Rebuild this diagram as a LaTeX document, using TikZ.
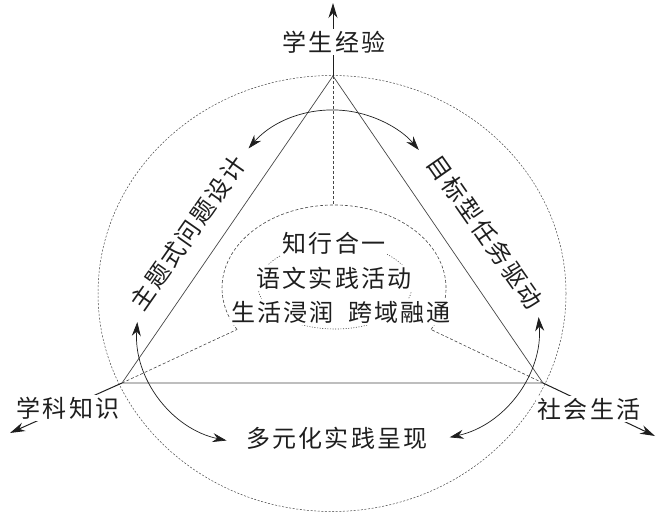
\documentclass[tikz,border=0pt]{standalone}
\usepackage{fontspec}
\usepackage{tikz}
\usetikzlibrary{arrows.meta, positioning, calc}
\newfontfamily\cjk[LetterSpace=9]{Noto Sans CJK SC}
\definecolor{ink}{RGB}{30,30,30}
\definecolor{rule}{RGB}{70,70,70}

\begin{document}
\begin{tikzpicture}[
    x=1pt, y=-1pt,
    every node/.style={font=\cjk\fontsize{24}{26}\selectfont, text=ink},
    tag/.style={fill=white, inner sep=1.5pt},
    axisarrow/.style={-{Stealth[length=15pt,width=9pt]}, line width=1pt, draw=ink},
    side/.style={line width=0.7pt, draw=rule},
    swing/.style={{Stealth[length=14pt,width=9pt]}-{Stealth[length=14pt,width=9pt]}, line width=0.7pt, draw=ink},
    guide/.style={dash pattern=on 3pt off 2pt, line width=0.6pt, draw=rule},
    ring/.style={dash pattern=on 2pt off 1.6pt, line width=0.5pt, draw=rule},
    hub/.style={dash pattern=on 1pt off 1.6pt, line width=0.6pt, draw=rule}
]
    \useasboundingbox (0,0) rectangle (660,516);

    % vertices of the triangle
    \coordinate (A) at (333,76);
    \coordinate (B) at (122,383);
    \coordinate (C) at (543,383);
    % axis ends
    \coordinate (At) at (333,3);
    \coordinate (Bt) at (10,433);
    \coordinate (Ct) at (655,436);
    % ends on the middle ellipse
    \coordinate (mt) at (333,205);
    \coordinate (ml) at (237,329.5);
    \coordinate (mr) at (431,329.5);
    % starts of the curved arrows
    \coordinate (t1) at (248.5,148.5);
    \coordinate (l1) at (137.3,322.1);
    \coordinate (r1) at (538.6,317.1);

    \draw[ring] (332,293.5) ellipse [x radius=234pt, y radius=218pt];
    \draw[side] (A) -- (B) -- (C) -- cycle;

    \draw[guide] (A) -- (mt);
    \draw[guide] (B) -- (ml);
    \draw[guide] (C) -- (mr);
    \draw[guide] (mr) arc [start angle=-30, end angle=210, x radius=112pt, y radius=83pt];
    \draw[hub] (335,286) ellipse [x radius=77pt, y radius=43pt];

    \draw[swing] (t1) arc [start angle=139, end angle=40, radius=112pt];
    \draw[swing] (l1) arc [start angle=176, end angle=258, radius=113pt];
    \draw[swing] (r1) arc [start angle=4.5, end angle=-77.5, radius=114pt];

    \draw[axisarrow] (A) -- (At);
    \draw[axisarrow] (B) -- (Bt);
    \draw[axisarrow] (C) -- (Ct);

    \node[tag] (xp) at (334,42) {学生经验};
    \node[tag] (kn) at (68,408) {学科知识};
    \node[tag] (sl) at (589,409) {社会生活};

    \node[rotate=55] (theme) at (188,233) {主题式问题设计};
    \node[rotate=-55] (goal) at (485,232) {目标型任务驱动};
    \node (show) at (337,438) {多元化实践呈现};

    \node[tag] (z1) at (334,243) {知行合一};
    \node[tag] (z2) at (334,278) {语文实践活动};
    \node[tag] (z3) at (341,312) {生活浸润\hspace{0.6em}跨域融通};
\end{tikzpicture}
\end{document}
